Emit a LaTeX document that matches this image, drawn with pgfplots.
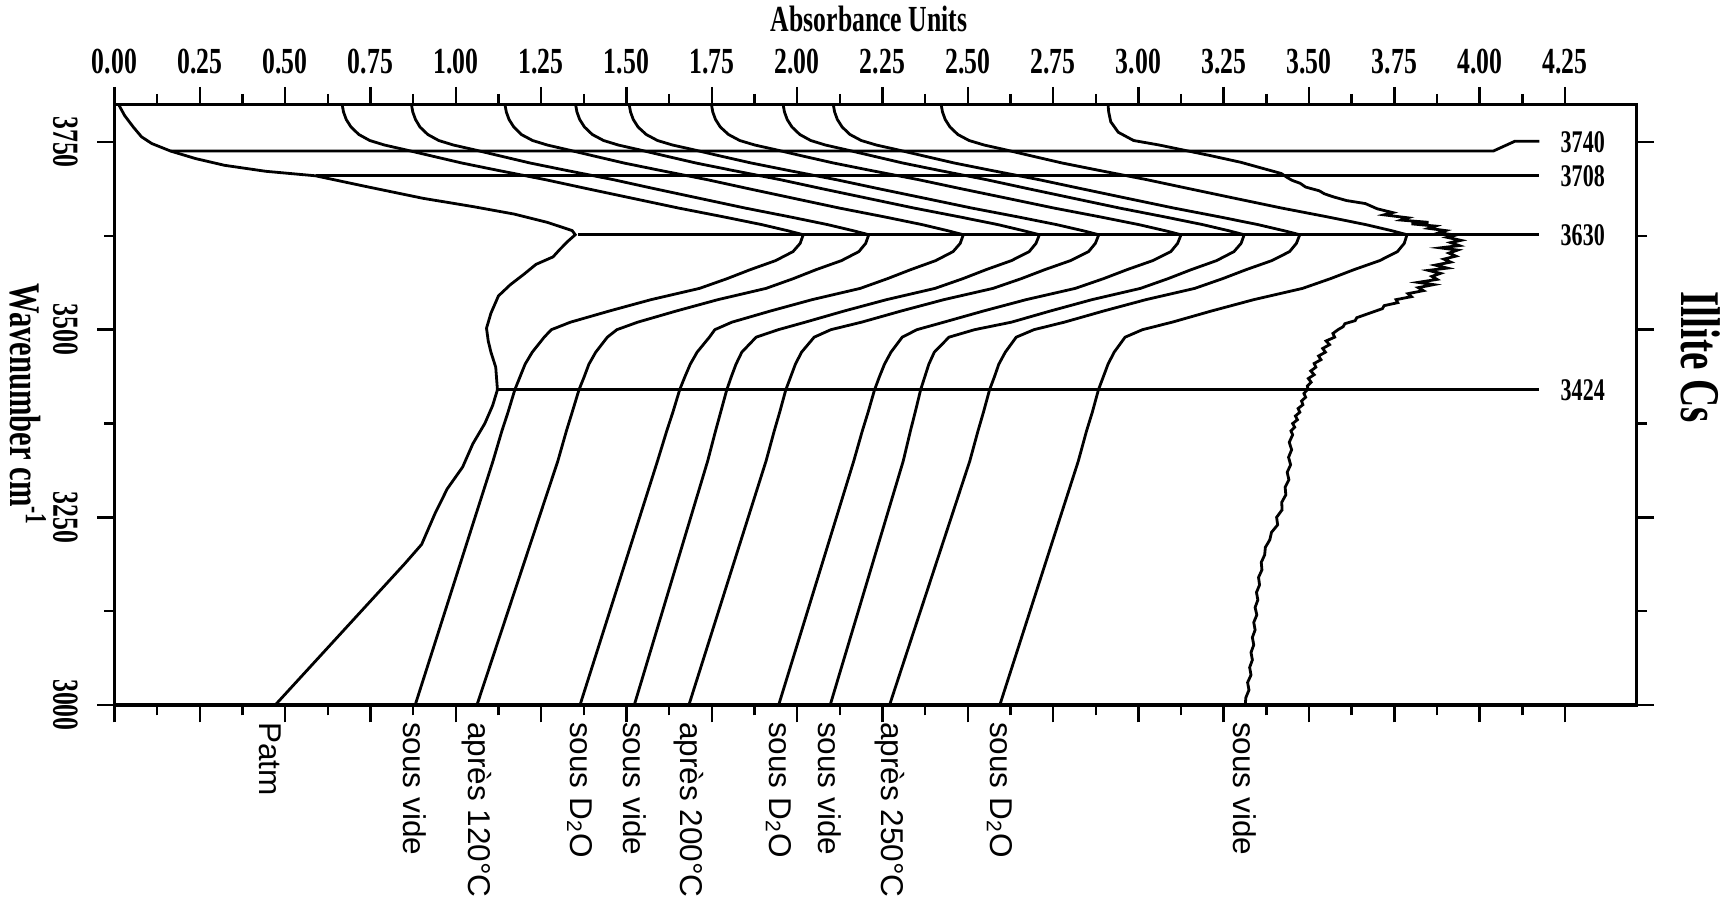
\documentclass[border=0pt]{standalone}
\usepackage{fontspec}
\setmainfont{Liberation Serif}
\newfontfamily\cond[FakeStretch=0.7]{Liberation Serif}
\newfontfamily\hand{Liberation Sans}
\usepackage{pgfplots}
\pgfplotsset{compat=1.18}
\begin{document}
\begin{tikzpicture}
\begin{axis}[
  scale only axis, width=434.9pt, height=171.57pt,
  xmin=0, xmax=4.46, ymin=3000, ymax=3800,
  clip=false,
  axis line style={line width=0.9pt},
  tick align=outside,
  major tick length=5pt, minor tick length=3pt,
  every tick/.style={black, line width=0.7pt},
  xtick={0,0.25,0.5,0.75,1,1.25,1.5,1.75,2,2.25,2.5,2.75,3,3.25,3.5,3.75,4,4.25},
  xticklabels={0.00,0.25,0.50,0.75,1.00,1.25,1.50,1.75,2.00,2.25,2.50,2.75,3.00,3.25,3.50,3.75,4.00,4.25},
  minor xtick={0.125,0.375,0.625,0.875,1.125,1.375,1.625,1.875,2.125,2.375,2.625,2.875,3.125,3.375,3.625,3.875,4.125},
  xticklabel pos=right,
  xticklabel style={font=\cond\bfseries\fontsize{10.5}{12}\selectfont, anchor=south, inner sep=0pt, yshift=3.45pt},
  ytick={3000,3250,3500,3750},
  yticklabels={3000,3250,3500,3750},
  minor ytick={3125,3375,3625},
  yticklabel pos=left,
  yticklabel style={font=\cond\bfseries\fontsize{10.5}{12}\selectfont, xshift=-5.25pt, rotate=-90, anchor=north, inner sep=0pt},
]
% Patm
\addplot[black, line width=0.8pt] coordinates {(0.012,3800) (0.030,3785) (0.055,3770) (0.079,3757) (0.109,3748) (0.164,3738) (0.237,3728) (0.322,3719) (0.443,3711) (0.589,3705) (0.734,3691) (0.904,3675) (1.050,3664) (1.171,3654) (1.268,3643) (1.341,3632) (1.350,3626.5) (1.329,3618) (1.305,3607) (1.285,3597) (1.235,3587) (1.200,3574) (1.160,3560) (1.125,3545) (1.103,3522) (1.090,3502) (1.095,3485) (1.103,3470) (1.117,3450) (1.122,3420) (1.108,3399) (1.085,3375) (1.050,3348) (1.020,3317) (0.975,3288) (0.940,3256) (0.900,3214) (0.850,3188) (0.471,3000)};
% c2 sous vide
\addplot[black, line width=0.8pt] coordinates {(0.667,3800) (0.671,3790) (0.679,3780) (0.693,3770) (0.716,3760) (0.748,3752) (0.791,3746) (0.849,3740) (0.924,3732) (1.018,3722) (1.126,3712) (1.261,3700) (1.383,3688) (1.518,3675) (1.653,3662) (1.788,3650) (1.896,3640) (1.971,3632) (2.018,3626.5) (2.009,3615) (1.988,3604) (1.937,3592) (1.863,3580) (1.795,3568) (1.714,3555) (1.572,3540) (1.451,3525) (1.336,3510) (1.280,3500) (1.259,3490) (1.224,3470) (1.203,3454) (1.188,3437) (1.173,3420) (1.153,3390) (1.135,3365) (1.109,3325) (0.881,3000)};
% c3 apres 120
\addplot[black, line width=0.8pt] coordinates {(0.870,3800) (0.874,3790) (0.882,3780) (0.895,3770) (0.918,3760) (0.950,3752) (0.993,3746) (1.051,3740) (1.125,3732) (1.218,3722) (1.326,3712) (1.460,3700) (1.580,3688) (1.714,3675) (1.848,3662) (1.982,3650) (2.089,3640) (2.163,3632) (2.210,3626.5) (2.201,3615) (2.181,3604) (2.130,3592) (2.056,3580) (1.989,3568) (1.909,3555) (1.768,3540) (1.647,3525) (1.533,3510) (1.472,3500) (1.444,3490) (1.410,3470) (1.390,3454) (1.376,3437) (1.361,3420) (1.341,3390) (1.324,3365) (1.299,3325) (1.062,3000)};
% c4 sous D2O
\addplot[black, line width=0.8pt] coordinates {(1.144,3800) (1.148,3790) (1.156,3780) (1.170,3770) (1.192,3760) (1.225,3752) (1.268,3746) (1.325,3740) (1.399,3732) (1.493,3722) (1.601,3712) (1.735,3700) (1.856,3688) (1.990,3675) (2.124,3662) (2.259,3650) (2.366,3640) (2.440,3632) (2.487,3626.5) (2.478,3615) (2.457,3604) (2.406,3592) (2.333,3580) (2.265,3568) (2.185,3555) (2.044,3540) (1.923,3525) (1.809,3510) (1.759,3500) (1.743,3490) (1.707,3470) (1.687,3454) (1.671,3437) (1.656,3420) (1.636,3390) (1.618,3365) (1.591,3325) (1.364,3000)};
% c5 sous vide
\addplot[black, line width=0.8pt] coordinates {(1.351,3800) (1.355,3790) (1.363,3780) (1.377,3770) (1.400,3760) (1.433,3752) (1.476,3746) (1.534,3740) (1.609,3732) (1.704,3722) (1.813,3712) (1.949,3700) (2.071,3688) (2.207,3675) (2.343,3662) (2.479,3650) (2.588,3640) (2.662,3632) (2.710,3626.5) (2.700,3615) (2.680,3604) (2.628,3592) (2.554,3580) (2.486,3568) (2.404,3555) (2.262,3540) (2.139,3525) (2.024,3510) (1.945,3500) (1.880,3490) (1.838,3470) (1.821,3454) (1.807,3437) (1.794,3420) (1.776,3390) (1.761,3365) (1.738,3325) (1.523,3000)};
% c6 apres 200
\addplot[black, line width=0.8pt] coordinates {(1.508,3800) (1.512,3790) (1.520,3780) (1.534,3770) (1.558,3760) (1.591,3752) (1.635,3746) (1.694,3740) (1.769,3732) (1.866,3722) (1.976,3712) (2.113,3700) (2.237,3688) (2.375,3675) (2.512,3662) (2.650,3650) (2.760,3640) (2.836,3632) (2.884,3626.5) (2.874,3615) (2.854,3604) (2.801,3592) (2.726,3580) (2.657,3568) (2.574,3555) (2.430,3540) (2.306,3525) (2.189,3510) (2.099,3500) (2.050,3490) (2.013,3470) (1.995,3454) (1.981,3437) (1.967,3420) (1.949,3390) (1.933,3365) (1.909,3325) (1.683,3000)};
% c7 sous D2O
\addplot[black, line width=0.8pt] coordinates {(1.749,3800) (1.753,3790) (1.761,3780) (1.775,3770) (1.799,3760) (1.832,3752) (1.876,3746) (1.935,3740) (2.010,3732) (2.107,3722) (2.217,3712) (2.354,3700) (2.478,3688) (2.616,3675) (2.753,3662) (2.891,3650) (3.001,3640) (3.077,3632) (3.125,3626.5) (3.115,3615) (3.095,3604) (3.042,3592) (2.967,3580) (2.898,3568) (2.815,3555) (2.671,3540) (2.547,3525) (2.430,3510) (2.351,3500) (2.308,3490) (2.275,3470) (2.256,3454) (2.241,3437) (2.227,3420) (2.208,3390) (2.191,3365) (2.166,3325) (1.946,3000)};
% c8 sous vide
\addplot[black, line width=0.8pt] coordinates {(1.959,3800) (1.963,3790) (1.971,3780) (1.985,3770) (2.008,3760) (2.040,3752) (2.083,3746) (2.141,3740) (2.216,3732) (2.310,3722) (2.418,3712) (2.553,3700) (2.675,3688) (2.810,3675) (2.945,3662) (3.080,3650) (3.188,3640) (3.263,3632) (3.310,3626.5) (3.301,3615) (3.280,3604) (3.229,3592) (3.155,3580) (3.087,3568) (3.006,3555) (2.864,3540) (2.743,3525) (2.628,3510) (2.520,3500) (2.445,3490) (2.402,3470) (2.386,3454) (2.374,3437) (2.362,3420) (2.346,3390) (2.332,3365) (2.311,3325) (2.097,3000)};
% c9 apres 250
\addplot[black, line width=0.8pt] coordinates {(2.106,3800) (2.110,3790) (2.118,3780) (2.132,3770) (2.155,3760) (2.188,3752) (2.232,3746) (2.291,3740) (2.366,3732) (2.461,3722) (2.571,3712) (2.707,3700) (2.831,3688) (2.967,3675) (3.104,3662) (3.241,3650) (3.350,3640) (3.425,3632) (3.473,3626.5) (3.463,3615) (3.443,3604) (3.391,3592) (3.316,3580) (3.247,3568) (3.165,3555) (3.022,3540) (2.899,3525) (2.783,3510) (2.694,3500) (2.642,3490) (2.610,3470) (2.591,3454) (2.578,3437) (2.564,3420) (2.546,3390) (2.530,3365) (2.506,3325) (2.271,3000)};
% c10 sous D2O
\addplot[black, line width=0.8pt] coordinates {(2.422,3800) (2.426,3790) (2.434,3780) (2.448,3770) (2.471,3760) (2.504,3752) (2.548,3746) (2.607,3740) (2.682,3732) (2.777,3722) (2.887,3712) (3.023,3700) (3.147,3688) (3.283,3675) (3.420,3662) (3.557,3650) (3.666,3640) (3.741,3632) (3.787,3626.5) (3.779,3615) (3.759,3604) (3.707,3592) (3.632,3580) (3.563,3568) (3.481,3555) (3.338,3540) (3.215,3525) (3.099,3510) (3.012,3500) (2.961,3490) (2.929,3470) (2.911,3454) (2.897,3437) (2.883,3420) (2.865,3390) (2.848,3365) (2.824,3325) (2.594,3000)};
% c11 sous vide (noisy trace)
\addplot[black, line width=0.8pt] coordinates {(2.911,3800) (2.913,3790) (2.919,3777) (2.941,3763) (2.986,3752) (3.061,3746) (3.135,3739) (3.210,3732) (3.300,3723) (3.419,3708) (3.435,3703) (3.450,3699) (3.474,3695) (3.490,3690) (3.530,3685) (3.545,3681) (3.571,3677) (3.610,3672) (3.665,3668) (3.685,3664) (3.700,3661) (3.745,3656) (3.720,3653) (3.790,3649) (3.770,3646) (3.850,3643) (3.800,3641) (3.870,3638) (3.850,3635) (3.900,3632) (3.880,3629) (3.930,3626) (3.905,3623) (3.945,3619) (3.915,3616) (3.940,3612) (3.885,3609) (3.935,3606) (3.910,3602) (3.930,3598) (3.895,3594) (3.915,3590) (3.870,3586) (3.905,3582) (3.850,3579) (3.885,3575) (3.860,3571) (3.875,3567) (3.820,3563) (3.865,3560) (3.820,3556) (3.835,3552) (3.790,3548) (3.800,3544) (3.755,3540) (3.760,3536) (3.720,3532) (3.715,3528) (3.690,3524) (3.665,3520) (3.640,3516) (3.635,3512) (3.605,3508) (3.600,3504) (3.585,3500) (3.570,3495) (3.575,3490) (3.550,3485) (3.560,3480) (3.540,3475) (3.548,3470) (3.528,3465) (3.535,3460) (3.515,3455) (3.520,3450) (3.505,3445) (3.515,3440) (3.498,3435) (3.506,3430) (3.495,3425) (3.497,3421) (3.485,3415) (3.490,3410) (3.478,3405) (3.482,3400) (3.468,3395) (3.473,3390) (3.460,3385) (3.466,3380) (3.452,3375) (3.458,3370) (3.447,3365) (3.452,3360) (3.442,3350) (3.449,3340) (3.440,3330) (3.446,3320) (3.436,3310) (3.441,3300) (3.430,3290) (3.432,3280) (3.420,3270) (3.421,3260) (3.405,3250) (3.408,3240) (3.390,3230) (3.385,3220) (3.372,3210) (3.370,3200) (3.360,3190) (3.362,3180) (3.352,3170) (3.355,3160) (3.346,3150) (3.350,3140) (3.342,3130) (3.347,3120) (3.338,3110) (3.342,3100) (3.334,3090) (3.338,3080) (3.330,3070) (3.334,3060) (3.326,3050) (3.330,3040) (3.320,3030) (3.324,3020) (3.315,3010) (3.313,3000)};
% reference lines
\addplot[black, line width=0.8pt] coordinates {(0.164,3738) (4.040,3738) (4.103,3751) (4.175,3751)};
\addplot[black, line width=0.8pt] coordinates {(0.589,3705) (4.175,3705)};
\addplot[black, line width=0.8pt] coordinates {(1.359,3626.5) (4.175,3626.5)};
\addplot[black, line width=0.8pt] coordinates {(1.125,3420.5) (4.175,3420.5)};
% texts
\node[font=\cond\bfseries\fontsize{10.5}{12}\selectfont] at (axis cs:2.211,3914) {Absorbance Units};
\node[font=\cond\bfseries\fontsize{12.5}{14}\selectfont, rotate=-90] at (axis cs:-0.2535,3400) {Wavenumber cm\textsuperscript{-1}};
\node[font=\cond\bfseries\fontsize{16}{18}\selectfont, rotate=-90] at (axis cs:4.646,3463.6) {Illite Cs};
\node[font=\cond\bfseries\fontsize{9}{10}\selectfont] at (axis cs:4.302,3750) {3740};
\node[font=\cond\bfseries\fontsize{9}{10}\selectfont] at (axis cs:4.302,3704) {3708};
\node[font=\cond\bfseries\fontsize{9}{10}\selectfont] at (axis cs:4.302,3626) {3630};
\node[font=\cond\bfseries\fontsize{9}{10}\selectfont] at (axis cs:4.302,3420) {3424};
\begin{scope}[every node/.style={font=\hand\fontsize{9}{10}\selectfont, rotate=-90, anchor=west, inner sep=0pt}]
\node at (axis cs:0.455,2978) {Patm};
\node at (axis cs:0.881,2978) {sous vide};
\node at (axis cs:1.062,2978) {après 120°C};
\node at (axis cs:1.364,2978) {sous D\textsubscript{2}O};
\node at (axis cs:1.523,2978) {sous vide};
\node at (axis cs:1.683,2978) {après 200°C};
\node at (axis cs:1.946,2978) {sous D\textsubscript{2}O};
\node at (axis cs:2.097,2978) {sous vide};
\node at (axis cs:2.271,2978) {après 250°C};
\node at (axis cs:2.594,2978) {sous D\textsubscript{2}O};
\node at (axis cs:3.313,2978) {sous vide};
\end{scope}
\coordinate (bbsw) at (axis cs:-0.3355,2733.6);
\coordinate (bbne) at (axis cs:4.7188,3939.2);
\end{axis}
\pgfresetboundingbox
\useasboundingbox (bbsw) rectangle (bbne);
\end{tikzpicture}
\end{document}
